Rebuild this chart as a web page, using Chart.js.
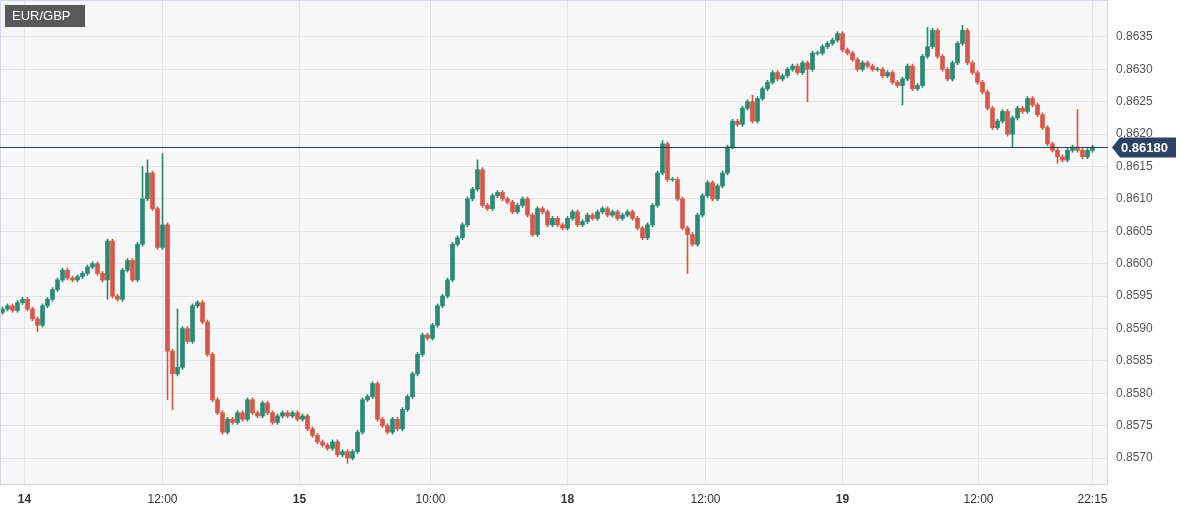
<!DOCTYPE html>
<html><head><meta charset="utf-8">
<script src="https://cdn.jsdelivr.net/npm/chart.js@4"></script>
<style>html,body{margin:0;padding:0;background:#fff}#w{width:1179px;height:514px}</style>
</head><body><div id="w"><canvas id="c"></canvas></div>
<script>
const symbol = "EUR/GBP";
const lastPrice = 0.86180;
const closes = [0.85930,0.85935,0.85928,0.85940,0.85945,0.85930,0.85915,0.85905,0.85935,0.85945,
0.85960,0.85975,0.85990,0.85978,0.85975,0.85980,0.85985,0.85995,0.86000,0.85985,
0.85975,0.86035,0.85950,0.85945,0.85990,0.86005,0.85975,0.86030,0.86100,0.86140,
0.86085,0.86025,0.86060,0.85865,0.85830,0.85840,0.85900,0.85880,0.85935,0.85940,
0.85910,0.85860,0.85790,0.85770,0.85740,0.85760,0.85755,0.85770,0.85760,0.85790,
0.85770,0.85765,0.85785,0.85770,0.85755,0.85765,0.85770,0.85765,0.85770,0.85760,
0.85765,0.85745,0.85735,0.85725,0.85720,0.85715,0.85725,0.85705,0.85710,0.85700,
0.85710,0.85740,0.85790,0.85795,0.85815,0.85760,0.85750,0.85740,0.85760,0.85745,
0.85775,0.85795,0.85830,0.85860,0.85890,0.85885,0.85905,0.85935,0.85950,0.85975,
0.86030,0.86040,0.86060,0.86100,0.86115,0.86145,0.86090,0.86085,0.86105,0.86110,
0.86100,0.86095,0.86080,0.86090,0.86100,0.86075,0.86045,0.86085,0.86080,0.86060,
0.86070,0.86060,0.86055,0.86070,0.86080,0.86060,0.86065,0.86075,0.86070,0.86080,
0.86085,0.86075,0.86080,0.86070,0.86075,0.86080,0.86070,0.86055,0.86040,0.86060,
0.86090,0.86140,0.86185,0.86130,0.86130,0.86100,0.86055,0.86045,0.86030,0.86075,
0.86105,0.86125,0.86100,0.86120,0.86140,0.86180,0.86220,0.86215,0.86240,0.86250,
0.86220,0.86255,0.86270,0.86280,0.86295,0.86285,0.86290,0.86300,0.86305,0.86295,
0.86310,0.86300,0.86325,0.86325,0.86335,0.86340,0.86345,0.86355,0.86330,0.86325,
0.86315,0.86300,0.86310,0.86305,0.86300,0.86300,0.86290,0.86295,0.86280,0.86275,
0.86285,0.86305,0.86270,0.86275,0.86320,0.86335,0.86360,0.86320,0.86300,0.86285,
0.86310,0.86340,0.86360,0.86310,0.86295,0.86280,0.86265,0.86240,0.86210,0.86220,
0.86235,0.86200,0.86225,0.86240,0.86235,0.86255,0.86245,0.86230,0.86210,0.86185,
0.86175,0.86165,0.86160,0.86175,0.86180,0.86175,0.86165,0.86175,0.86180];
const firstOpen = 0.85925;
const wickPad = 0.00003;
const highSpikes = {28:0.86150,29:0.86160,32:0.86170,132:0.86190,185:0.86365,192:0.86368,215:0.86238,95:0.86160,35:0.85930,150:0.86260};
const lowSpikes = {7:0.85895,33:0.85790,34:0.85775,69:0.85692,137:0.85985,161:0.86250,180:0.86245,211:0.86155,202:0.86180,21:0.85945,84:0.85860};
const tickPos = [4.4,32,59.4,85.6,113,140.6,168,195.2,218];
const tickLabels = ["14","12:00","15","10:00","18","12:00","19","12:00","22:15"];
const dayLabels = ["14","15","18","19"];

const bodies=[], wicks=[], colors=[];
closes.forEach((c,i)=>{
  const o = i===0?firstOpen:closes[i-1];
  let hi = Math.max(o,c)+wickPad, lo = Math.min(o,c)-wickPad;
  if(highSpikes[i]!==undefined) hi=Math.max(hi,highSpikes[i]);
  if(lowSpikes[i]!==undefined) lo=Math.min(lo,lowSpikes[i]);
  let b=[o,c]; if(Math.abs(o-c)<0.00001) b=[o-0.000005,c+0.000005];
  bodies.push({x:i,y:b}); wicks.push({x:i,y:[lo,hi]});
  colors.push(c>=o?'#2a8a72':'#d9574a');
});

const deco={id:'deco',
 beforeDraw(ch){const {ctx,chartArea:a}=ch;ctx.save();ctx.fillStyle='#f7f7f7';ctx.fillRect(a.left,a.top,a.width,a.height);ctx.restore();},
 afterDraw(ch){const {ctx,chartArea:a,scales}=ch;const y=Math.round(scales.y.getPixelForValue(lastPrice))+0.5;
  ctx.save();ctx.strokeStyle='#d3d8e6';ctx.lineWidth=1;ctx.strokeRect(a.left+0.5,a.top+0.5,a.width-1,a.height);
  ctx.strokeStyle='#2b3d5e';ctx.beginPath();ctx.moveTo(a.left,y);ctx.lineTo(a.right,y);ctx.stroke();
  const bx=a.right+12;ctx.fillStyle='#2b4266';ctx.beginPath();ctx.moveTo(bx-8,y);ctx.lineTo(bx,y-10);ctx.lineTo(bx+56,y-10);ctx.lineTo(bx+56,y+10);ctx.lineTo(bx,y+10);ctx.closePath();ctx.fill();
  ctx.fillStyle='#fff';ctx.font='bold 13px "Liberation Sans", Arial';ctx.textBaseline='middle';ctx.textAlign='left';ctx.fillText(lastPrice.toFixed(5),bx+1,y+1);
  ctx.fillStyle='#595959';ctx.fillRect(5,5,80,22);ctx.fillStyle='#fff';ctx.font='13px "Liberation Sans", Arial';ctx.fillText(symbol,12,16);
  ctx.restore();}};

new Chart(document.getElementById('c'),{type:'bar',
 data:{datasets:[
  {data:wicks,backgroundColor:colors,barThickness:1,grouped:false,order:2},
  {data:bodies,backgroundColor:colors,barThickness:4,grouped:false,order:1}]},
 options:{responsive:true,maintainAspectRatio:false,animation:false,
  layout:{padding:0},
  plugins:{legend:{display:false},tooltip:{enabled:false}},
  scales:{
   x:{type:'linear',min:-0.5,max:221.1,offset:false,
    afterBuildTicks(s){s.ticks=tickPos.map(v=>({value:v}));},
    afterFit(s){s.height=30;s.paddingLeft=0;s.paddingRight=0;},
    grid:{color:'#e6e6e6',drawTicks:false,offset:false},border:{display:false},
    ticks:{padding:8,color:'#333',maxRotation:0,autoSkip:false,
     callback:(v,i)=>tickLabels[i],
     font:(ctx)=>({family:'"Liberation Sans", Arial',size:12,weight:dayLabels.includes(tickLabels[ctx.index])?'bold':'normal'})}},
   y:{position:'right',min:0.85660,max:0.86407,
    afterBuildTicks(s){const t=[];for(let v=0.8570;v<=0.86351;v+=0.0005)t.push({value:+v.toFixed(4)});s.ticks=t;},
    afterFit(s){s.width=71;s.paddingTop=0;s.paddingBottom=0;},
    grid:{color:'#e6e6e6',drawTicks:false},border:{display:false},
    ticks:{padding:8,color:'#555',font:{family:'"Liberation Sans", Arial',size:12},callback:v=>v.toFixed(4)}}}},
 plugins:[deco]});
</script></body></html>
